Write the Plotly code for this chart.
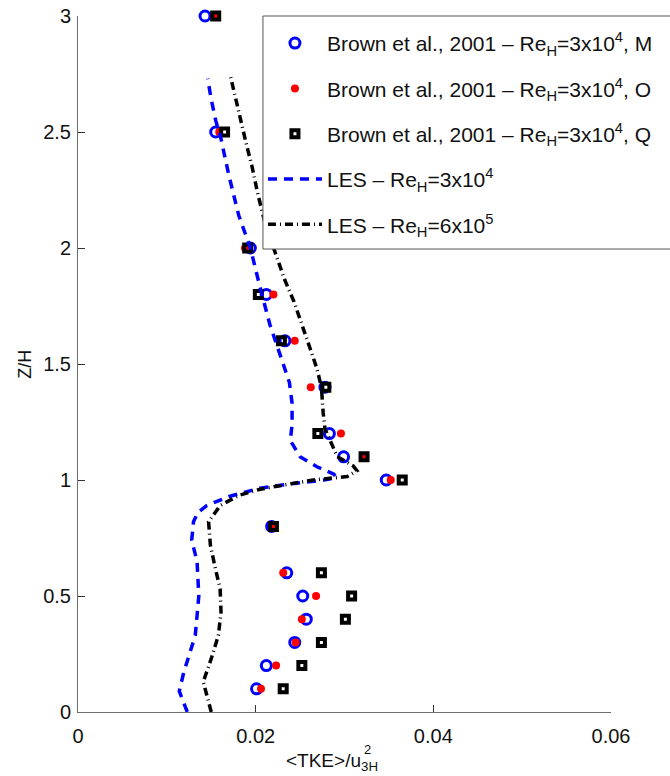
import plotly.graph_objects as go

# Measurement heights Z/H for the Brown et al. (2001) profiles
z_exp = [0.1, 0.2, 0.3, 0.4, 0.5, 0.6, 0.8, 1.0, 1.1, 1.2, 1.4, 1.6, 1.8, 2.0, 2.5, 3.0]

# Normalised TKE at stations M, O and Q
tke_M = [0.0201, 0.0212, 0.0244, 0.0257, 0.0253, 0.0235, 0.0218, 0.0347,
         0.0299, 0.0283, 0.0278, 0.0233, 0.0212, 0.0194, 0.0155, 0.0143]
tke_O = [0.0206, 0.0223, 0.0245, 0.0252, 0.0268, 0.0231, 0.0220, 0.0352,
         0.0322, 0.0296, 0.0262, 0.0244, 0.0220, 0.0188, 0.0159, 0.0153]
tke_Q = [0.0231, 0.0252, 0.0274, 0.0301, 0.0308, 0.0274, 0.0220, 0.0365,
         0.0322, 0.0270, 0.0279, 0.0229, 0.0203, 0.0191, 0.0165, 0.0155]

# LES profile, Re_H = 3x10^4
les_lo_z = [0.0, 0.09, 0.17, 0.25, 0.33, 0.50, 0.65, 0.74, 0.82, 0.86, 0.89,
            0.93, 0.965, 0.985, 1.0, 1.01, 1.025, 1.057, 1.10, 1.17, 1.24,
            1.33, 1.42, 1.50, 1.67, 1.83, 2.0, 2.14, 2.31, 2.47, 2.55, 2.64, 2.73]
les_lo_tke = [0.0123, 0.0114, 0.0119, 0.0126, 0.0132, 0.0136, 0.0134, 0.0128,
              0.0130, 0.0135, 0.0145, 0.0171, 0.0205, 0.0243, 0.0277, 0.0291,
              0.0288, 0.0269, 0.0250, 0.0239, 0.0241, 0.0241, 0.0238, 0.0231,
              0.0216, 0.0205, 0.0194, 0.0181, 0.0170, 0.0161, 0.0155, 0.0150, 0.0146]

# LES profile, Re_H = 6x10^5
les_hi_z = [0.0, 0.04, 0.13, 0.23, 0.33, 0.43, 0.53, 0.63, 0.72, 0.82, 0.89,
            0.935, 0.96, 0.978, 1.0, 1.015, 1.04, 1.06, 1.10, 1.22, 1.29, 1.40,
            1.48, 1.57, 1.67, 1.77, 1.86, 1.96, 2.10, 2.24, 2.35, 2.44, 2.55,
            2.64, 2.75]
les_hi_tke = [0.0150, 0.0147, 0.0141, 0.0150, 0.0158, 0.0161, 0.0160, 0.0154,
              0.0149, 0.0147, 0.0160, 0.0182, 0.0205, 0.0231, 0.0265, 0.0303,
              0.0314, 0.0310, 0.0292, 0.0278, 0.0276, 0.0274, 0.0269, 0.0261,
              0.0252, 0.0243, 0.0233, 0.0224, 0.0211, 0.0202, 0.0196, 0.0190,
              0.0183, 0.0178, 0.0171]

x_ticks = [0, 0.02, 0.04, 0.06]
x_ticklabels = ["0", "0.02", "0.04", "0.06"]
y_ticks = [0, 0.5, 1, 1.5, 2, 2.5, 3]
y_ticklabels = ["0", "0.5", "1", "1.5", "2", "2.5", "3"]

FONT = "Liberation Sans, Arial, Helvetica, sans-serif"
INK = "#111111"
RE = "Re<sub>H</sub>"

fig = go.Figure()

fig.add_trace(go.Scatter(
    x=tke_M, y=z_exp, mode="markers", cliponaxis=False, legendgroup="M",
    name=f"Brown et al., 2001 \u2013 {RE}=3x10<sup>4</sup>, M",
    marker=dict(symbol="circle-open", size=10, color="#0000ff",
                line=dict(width=3, color="#0000ff")),
))
fig.add_trace(go.Scatter(
    x=tke_O, y=z_exp, mode="markers", cliponaxis=False, legendgroup="O",
    name=f"Brown et al., 2001 \u2013 {RE}=3x10<sup>4</sup>, O",
    marker=dict(symbol="circle", size=8, color="#ff0000", line=dict(width=0)),
))
fig.add_trace(go.Scatter(
    x=tke_Q, y=z_exp, mode="markers", cliponaxis=False, legendgroup="Q",
    name=f"Brown et al., 2001 \u2013 {RE}=3x10<sup>4</sup>, Q",
    marker=dict(symbol="square-open", size=7, color="#000000",
                line=dict(width=4, color="#000000")),
))
fig.add_trace(go.Scatter(
    x=les_lo_tke, y=les_lo_z, mode="lines", legendgroup="L1",
    name=f"LES \u2013 {RE}=3x10<sup>4</sup>",
    line=dict(color="#0000ff", width=3.5, dash="9px,7px"),
))
fig.add_trace(go.Scatter(
    x=les_hi_tke, y=les_hi_z, mode="lines", legendgroup="L2",
    name=f"LES \u2013 {RE}=6x10<sup>5</sup>",
    line=dict(color="#000000", width=3.5, dash="8px,4px,1px,4px"),
))

axis_common = dict(
    showgrid=False, zeroline=False, showline=True, linecolor="#6e6e6e",
    linewidth=1, ticks="inside", ticklen=7, tickcolor="#333333",
    tickfont=dict(family=FONT, size=20, color=INK), mirror=False,
)

fig.update_layout(
    width=670, height=776,
    margin=dict(l=78, r=59, t=16, b=64, autoexpand=False),
    paper_bgcolor="white", plot_bgcolor="white",
    font=dict(family=FONT, color=INK),
    xaxis=dict(range=[0, 0.06], tickvals=x_ticks, ticktext=x_ticklabels,
               ticklabelstandoff=6, **axis_common),
    yaxis=dict(range=[0, 3], tickvals=y_ticks, ticktext=y_ticklabels,
               ticklabelstandoff=2, **axis_common),
    legend=dict(x=0.347, y=0.99, xanchor="left", yanchor="top",
                bgcolor="rgba(0,0,0,0)", borderwidth=0,
                font=dict(family=FONT, size=21, color=INK),
                itemwidth=54, tracegroupgap=15, traceorder="grouped"),
    showlegend=True,
)

# legend frame, running past the right edge of the figure
fig.add_shape(type="rect", xref="paper", yref="paper",
              x0=0.347, x1=1.2, y0=0.6652, y1=1.0, layer="above",
              fillcolor="white", line=dict(color="#555555", width=1))

# axis titles
fig.add_annotation(text="Z/H", xref="paper", yref="paper", x=-0.1, y=0.5,
                   xanchor="center", yanchor="middle",
                   textangle=-90, showarrow=False,
                   font=dict(family=FONT, size=18, color=INK))
fig.add_annotation(text="&lt;TKE&gt;/u<sub>3H</sub>", xref="paper", yref="paper",
                   x=0.387, y=-0.0517, xanchor="left", yanchor="top",
                   showarrow=False,
                   font=dict(family=FONT, size=19, color=INK))
fig.add_annotation(text="2", xref="paper", yref="paper",
                   x=0.533, y=-0.040, xanchor="left", yanchor="top",
                   showarrow=False,
                   font=dict(family=FONT, size=13, color=INK))

fig.write_html("out.html")
